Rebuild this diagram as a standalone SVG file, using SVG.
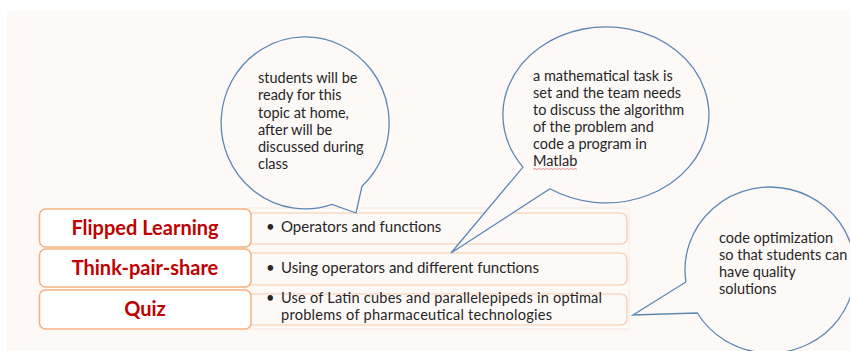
<svg xmlns="http://www.w3.org/2000/svg" width="850" height="351" viewBox="0 0 850 351">
<style>
.bg{fill:#fdf9f7}
.lbox{fill:#ffffff;stroke:#f4b183;stroke-width:1.5}
.rbox{fill:#fdf9f7;stroke:#f8cbad;stroke-width:1.2}
.lbl{font-family:Lato,"Open Sans",sans-serif;font-weight:bold;font-size:20px;fill:#c00000;text-anchor:middle}
.itm{font-family:Lato,"Open Sans",sans-serif;font-size:15px;fill:#262626}
.itm2{font-family:Lato,"Open Sans",sans-serif;font-size:14.6px;fill:#262626}
.co{fill:#fdf9f7;stroke:#5b87b5;stroke-width:1.3}
.ct{font-family:Lato,"Open Sans",sans-serif;font-size:14.5px;fill:#262626}
</style>
<rect class="bg" x="7" y="11" width="843" height="340"/>
<rect x="245" y="208" width="384" height="121" fill="none" stroke="#f7e9e1" stroke-width="1"/>
<g id="row1">
<rect class="rbox" x="235" y="213" width="392" height="31" rx="6"/>
<rect class="lbox" x="39.5" y="209" width="211.5" height="38" rx="6"/>
<text class="lbl" x="145" y="234.5">Flipped Learning</text>
<text class="itm" x="266" y="232">•</text>
<text class="itm" x="281" y="232">Operators and functions</text>
</g>
<g id="row2">
<rect class="rbox" x="235" y="253" width="392" height="32" rx="6"/>
<rect class="lbox" x="39.5" y="249" width="211.5" height="38" rx="6"/>
<text class="lbl" x="145" y="274.5">Think-pair-share</text>
<text class="itm" x="266" y="273">•</text>
<text class="itm" x="281" y="273">Using operators and different functions</text>
</g>
<g id="row3">
<rect class="rbox" x="235" y="294" width="392" height="31" rx="6"/>
<rect class="lbox" x="39.5" y="290" width="211.5" height="39" rx="6"/>
<text class="lbl" x="145" y="315.5">Quiz</text>
<text class="itm2" x="266" y="303">•</text>
<text class="itm2" x="281" y="303" textLength="321" lengthAdjust="spacing">Use of Latin cubes and parallelepipeds in optimal</text>
<text class="itm2" x="281" y="320" textLength="271" lengthAdjust="spacing">problems of pharmaceutical technologies</text>
</g>
<g id="connectors">
<g id="callout1">
<path class="co" d="M 362 186.2 A 84 86 0 1 0 332 204.4 L 356 213 Z"/>
<text class="ct" x="258" y="83">students will be</text>
<text class="ct" x="258" y="100">ready for this</text>
<text class="ct" x="258" y="117.5">topic at home,</text>
<text class="ct" x="258" y="135">after will be</text>
<text class="ct" x="258" y="152">discussed during</text>
<text class="ct" x="258" y="169">class</text>
</g>
<g id="callout2">
<path class="co" d="M 550 188.8 A 103 88 0 1 0 523 167.1 L 451 253 Z"/>
<text class="ct" x="533" y="81">a mathematical task is</text>
<text class="ct" x="533" y="98">set and the team needs</text>
<text class="ct" x="533" y="115">to discuss the algorithm</text>
<text class="ct" x="533" y="132">of the problem and</text>
<text class="ct" x="533" y="149">code a program in</text>
<text class="ct" x="533" y="166">Matlab</text>
<path d="M533 169.5 l2 -1 l2 1 l2 -1 l2 1 l2 -1 l2 1 l2 -1 l2 1 l2 -1 l2 1 l2 -1 l2 1 l2 -1 l2 1 l2 -1 l2 1 l2 -1 l2 1 l2 -1 l2 1 l2 -1 l2 1" fill="none" stroke="#e06666" stroke-width="0.7"/>
</g>
<g id="callout3">
<path class="co" d="M 697.3 313 A 85 83 0 1 0 685.9 282 L 633 315 Z"/>
<text class="ct" x="719" y="243">code optimization</text>
<text class="ct" x="719" y="260">so that students can</text>
<text class="ct" x="719" y="277">have quality</text>
<text class="ct" x="719" y="294">solutions</text>
</g>
</g>
</svg>
